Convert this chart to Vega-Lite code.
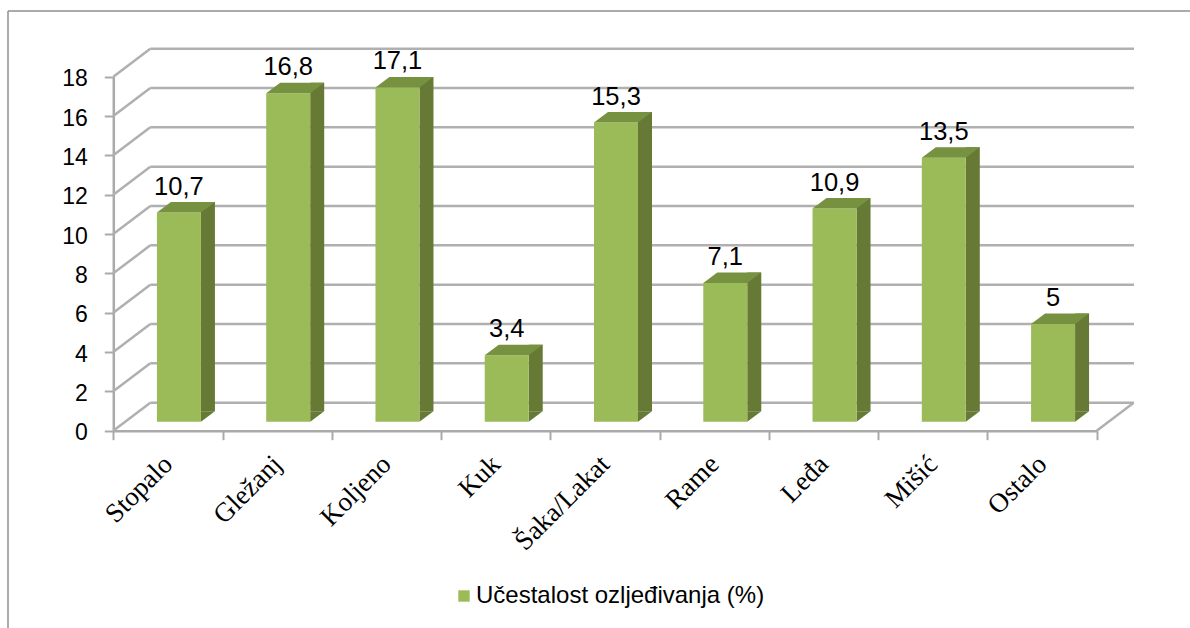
{
"$schema":"https://vega.github.io/schema/vega-lite/v6.json",
"autosize":{"type":"none"},
"padding":{"left":8,"top":11,"right":0,"bottom":0},
"width":1182,"height":617,
"background":"white",
"view":{"stroke":null,"fill":"white"},
"datasets":{
"bars":[
{"dio":"Stopalo","vrijednost":10.7,"oznaka":"10,7","serija":"Učestalost ozljeđivanja (%)"},
{"dio":"Gležanj","vrijednost":16.8,"oznaka":"16,8","serija":"Učestalost ozljeđivanja (%)"},
{"dio":"Koljeno","vrijednost":17.1,"oznaka":"17,1","serija":"Učestalost ozljeđivanja (%)"},
{"dio":"Kuk","vrijednost":3.4,"oznaka":"3,4","serija":"Učestalost ozljeđivanja (%)"},
{"dio":"Šaka/Lakat","vrijednost":15.3,"oznaka":"15,3","serija":"Učestalost ozljeđivanja (%)"},
{"dio":"Rame","vrijednost":7.1,"oznaka":"7,1","serija":"Učestalost ozljeđivanja (%)"},
{"dio":"Leđa","vrijednost":10.9,"oznaka":"10,9","serija":"Učestalost ozljeđivanja (%)"},
{"dio":"Mišić","vrijednost":13.5,"oznaka":"13,5","serija":"Učestalost ozljeđivanja (%)"},
{"dio":"Ostalo","vrijednost":5,"oznaka":"5","serija":"Učestalost ozljeđivanja (%)"}
],
"ticks":[{"t":0},{"t":2},{"t":4},{"t":6},{"t":8},{"t":10},{"t":12},{"t":14},{"t":16},{"t":18}],
"frame":[{"a":0,"b":1}]
},
"resolve":{"scale":{"x":"independent","y":"independent","color":"independent"},"axis":{"x":"independent","y":"independent"}},
"layer":[
{"data":{"name":"frame"},
 "mark":{"type":"rule","color":"#8f8f8f","strokeWidth":1.5},
 "encoding":{
  "x":{"field":"a","type":"quantitative","axis":null,"scale":{"domain":[0,1],"range":[0,1182]}},
  "x2":{"field":"b"},
  "y":{"field":"a","type":"quantitative","axis":null,"scale":{"domain":[0,1],"range":[0,617]}}
 }},
{"data":{"name":"frame"},
 "mark":{"type":"rule","color":"#8f8f8f","strokeWidth":1.5},
 "encoding":{
  "x":{"field":"a","type":"quantitative","axis":null,"scale":{"domain":[0,1],"range":[0,1182]}},
  "y":{"field":"a","type":"quantitative","axis":null,"scale":{"domain":[0,1],"range":[0,617]}},
  "y2":{"field":"b"}
 }},
{"data":{"name":"ticks"},
 "mark":{"type":"rule","color":"#b0b0b0","strokeWidth":2.5},
 "encoding":{
  "x":{"datum":0,"type":"quantitative","axis":null,"scale":{"domain":[0,1],"range":[142.3,1126]}},
  "x2":{"datum":1},
  "y":{"field":"t","type":"quantitative","axis":null,"scale":{"domain":[0,18],"range":[391.7,37.7]}}
 }},
{"data":{"name":"ticks"},
 "mark":{"type":"point","shape":"M0,0L37,-28","size":4,"filled":false,"stroke":"#b0b0b0","strokeWidth":2.5,"opacity":1},
 "encoding":{
  "x":{"datum":0,"type":"quantitative","axis":null,"scale":{"domain":[0,1],"range":[105.3,1088.7]}},
  "y":{"field":"t","type":"quantitative","title":null,
   "scale":{"domain":[0,18],"range":[419.7,65.7]},
   "axis":{"values":[0,2,4,6,8,10,12,14,16,18],"grid":false,"offset":-105.3,"domainColor":"#aaaaaa","domainWidth":2.5,"tickColor":"#aaaaaa","tickWidth":2,"tickSize":9,"labelPadding":17,"labelOffset":2,"labelFont":"Liberation Sans","labelFontSize":23,"labelColor":"#000000"}}
 }},
{"data":{"values":[{"t":0}]},
 "mark":{"type":"point","shape":"M0,0L37,-28","size":4,"filled":false,"stroke":"#b0b0b0","strokeWidth":2.5,"opacity":1},
 "encoding":{
  "x":{"datum":1,"type":"quantitative","axis":null,"scale":{"domain":[0,1],"range":[105.3,1088.7]}},
  "y":{"field":"t","type":"quantitative","axis":null,"scale":{"domain":[0,18],"range":[419.7,65.7]}}
 }},
{"data":{"name":"bars"},
 "mark":{"type":"bar","width":14,"xOffset":40,"color":"#667a36"},
 "encoding":{
  "x":{"field":"dio","type":"nominal","sort":null,"axis":null,"scale":{"type":"band","paddingInner":0,"paddingOuter":0,"range":[105.3,1088.7]}},
  "y":{"field":"vrijednost","type":"quantitative","axis":null,"scale":{"domain":[0,18.16],"range":[400.2,45.2]}}
 }},
{"data":{"name":"bars"},
 "mark":{"type":"point","shape":"M0,0L14,-10.5L0,-10.5Z","size":4,"filled":true,"fill":"#667a36","opacity":1,"xOffset":33},
 "encoding":{
  "x":{"field":"dio","type":"nominal","sort":null,"axis":null,"scale":{"type":"band","paddingInner":0,"paddingOuter":0,"range":[105.3,1088.7]}},
  "y":{"datum":0,"type":"quantitative","axis":null,"scale":{"domain":[0,18.16],"range":[410.7,55.7]}}
 }},
{"data":{"name":"bars"},
 "mark":{"type":"bar","width":44,"xOffset":11},
 "encoding":{
  "x":{"field":"dio","type":"nominal","sort":null,"title":null,"scale":{"type":"band","paddingInner":0,"paddingOuter":0,"range":[105.3,1088.7]},
   "axis":{"offset":-197.3,"tickBand":"extent","domainColor":"#aaaaaa","domainWidth":2.5,"tickColor":"#aaaaaa","tickWidth":2,"tickSize":9,"labelAngle":-45,"labelAlign":"right","labelBaseline":"middle","labelPadding":20,"labelFont":"Liberation Serif","labelFontSize":27,"labelColor":"#000000","labelOverlap":false,"labelBound":false,"labelLimit":300,"grid":false}},
  "y":{"field":"vrijednost","type":"quantitative","axis":null,"scale":{"domain":[0,18.16],"range":[410.7,55.7]}},
  "color":{"field":"serija","type":"nominal","title":null,"scale":{"range":["#9bbb59"]},
   "legend":{"orient":"none","legendX":444,"legendY":573,"title":null,"symbolType":"square","symbolSize":130,"labelOffset":0,"labelFont":"Liberation Sans","labelFontSize":24,"labelColor":"#000000","labelLimit":400}}
 }},
{"data":{"name":"bars"},
 "mark":{"type":"point","shape":"M0,0L-44,0L-30,-10.5L14,-10.5Z","size":4,"filled":true,"fill":"#76913f","opacity":1,"xOffset":33},
 "encoding":{
  "x":{"field":"dio","type":"nominal","sort":null,"axis":null,"scale":{"type":"band","paddingInner":0,"paddingOuter":0,"range":[105.3,1088.7]}},
  "y":{"field":"vrijednost","type":"quantitative","axis":null,"scale":{"domain":[0,18.16],"range":[410.7,55.7]}}
 }},
{"data":{"name":"bars"},
 "mark":{"type":"text","align":"center","baseline":"alphabetic","dy":-18,"xOffset":11,"font":"Liberation Sans","fontSize":25.5,"color":"#000000"},
 "encoding":{
  "x":{"field":"dio","type":"nominal","sort":null,"axis":null,"scale":{"type":"band","paddingInner":0,"paddingOuter":0,"range":[105.3,1088.7]}},
  "y":{"field":"vrijednost","type":"quantitative","axis":null,"scale":{"domain":[0,18.16],"range":[410.7,55.7]}},
  "text":{"field":"oznaka","type":"nominal"}
 }}
]
}
